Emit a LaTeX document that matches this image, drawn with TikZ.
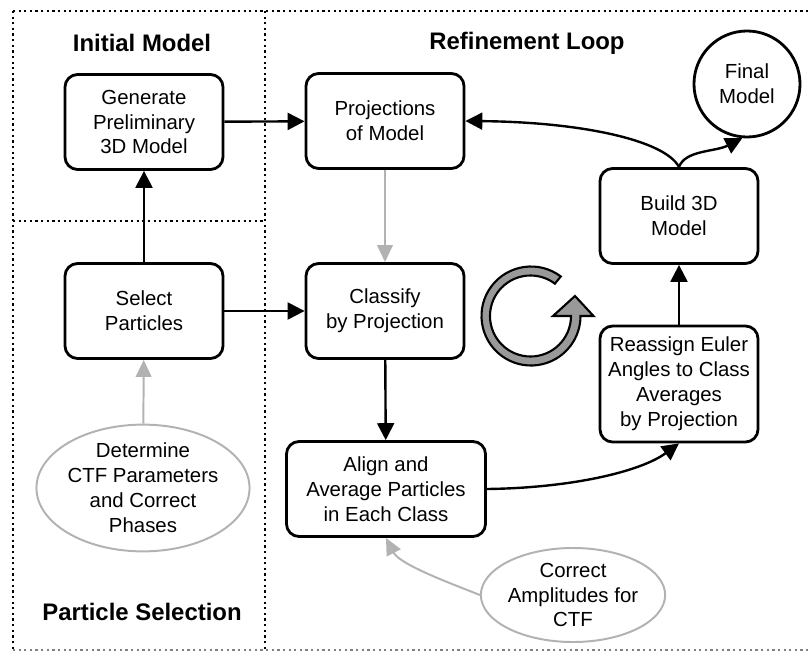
\documentclass[tikz,border=0pt]{standalone}
\usepackage{fontspec}
\setmainfont{Liberation Sans}
\usetikzlibrary{arrows.meta,shapes.geometric}
\definecolor{paleline}{gray}{0.7}
\definecolor{ringfill}{gray}{0.6}
\begin{document}
\begin{tikzpicture}[x=0.025cm,y=-0.025cm,
	box/.style={draw,line width=2pt,rounded corners=9pt,minimum width=3.95cm,minimum height=2.375cm,align=center,inner sep=2pt,font=\fontsize{14.5}{17.7}\selectfont},
	oval/.style={draw=paleline,line width=1.4pt,ellipse,align=center,inner sep=0pt,font=\fontsize{14.5}{17.7}\selectfont},
	heading/.style={font=\fontsize{17}{20}\selectfont\bfseries},
	frame/.style={line width=1.8pt,dash pattern=on 1.6pt off 2.4pt},
	flow/.style={line width=1.7pt,-{Triangle[length=12pt,width=12pt]}},
	faint/.style={line width=1.4pt,draw=paleline,-{Triangle[length=12pt,width=11pt,fill=paleline]}}]
	\useasboundingbox (0,0) rectangle (810,651);
	\draw [frame] (13,11) -- (830,11);
	\draw [frame] (13,11) -- (13,650);
	\draw [frame,draw=gray] (13,650) -- (830,650);
	\draw [frame] (265,11) -- (265,650);
	\draw [frame] (13,221) -- (265,221);
	\node [heading] (tinit) at (142,43) {Initial Model};
	\node [heading] (tloop) at (527,43) {Refinement Loop};
	\node [heading] (tsel) at (142,612) {Particle Selection};
	\node [box] (gen) at (144,122) {Generate\\Preliminary\\3D Model};
	\node [box] (proj) at (385,121) {Projections\\of Model};
	\node [box] (build) at (679,216) {Build 3D\\Model};
	\node [box] (sel) at (144,311) {Select\\Particles};
	\node [box] (cls) at (385,311) {Classify\\by Projection};
	\node [box,minimum height=2.9cm] (reas) at (679,384) {Reassign Euler\\Angles to Class\\Averages\\by Projection};
	\node [box,minimum width=4.975cm] (align) at (386,489) {Align and\\Average Particles\\in Each Class};
	\node [draw,circle,line width=2pt,minimum size=2.65cm,align=center,inner sep=0pt,font=\fontsize{14.5}{17.7}\selectfont] (final) at (747,84) {Final\\Model};
	\node [oval,minimum width=4.875cm,minimum height=2.8cm] (det) at (143,488) {Determine\\CTF Parameters\\and Correct\\Phases};
	\node [oval,minimum width=4.35cm,minimum height=2.35cm] (corr) at (573,595) {Correct\\Amplitudes for\\CTF};
	\draw [flow] (gen) -- (proj);
	\draw [flow] (sel) -- (cls);
	\draw [flow] (sel) -- (gen);
	\draw [faint] (proj) -- (cls);
	\draw [flow] (cls) -- (align);
	\draw [flow] (reas) -- (build);
	\draw [faint] (det) -- (sel);
	\draw [flow] (align.east) .. controls (570,488) and (640,472) .. (reas.south);
	\draw [flow] (build.north) .. controls (665,140) and (580,122) .. (proj.east);
	\draw [flow] (build.north) .. controls (685,150) and (715,152) .. (final.265);
	\draw [faint] (corr.west) .. controls (455,585) and (400,565) .. (align.south);
	\draw [line width=1.5pt,fill=ringfill] (531,316) ++(-53:49.5) arc [start angle=-53,end angle=-360,radius=49.5]
		-- ++(13,0) -- (575,296) -- (553,316) -- (571,316)
		arc [start angle=-360,end angle=-53,radius=40.5] -- cycle;
\end{tikzpicture}
\end{document}
